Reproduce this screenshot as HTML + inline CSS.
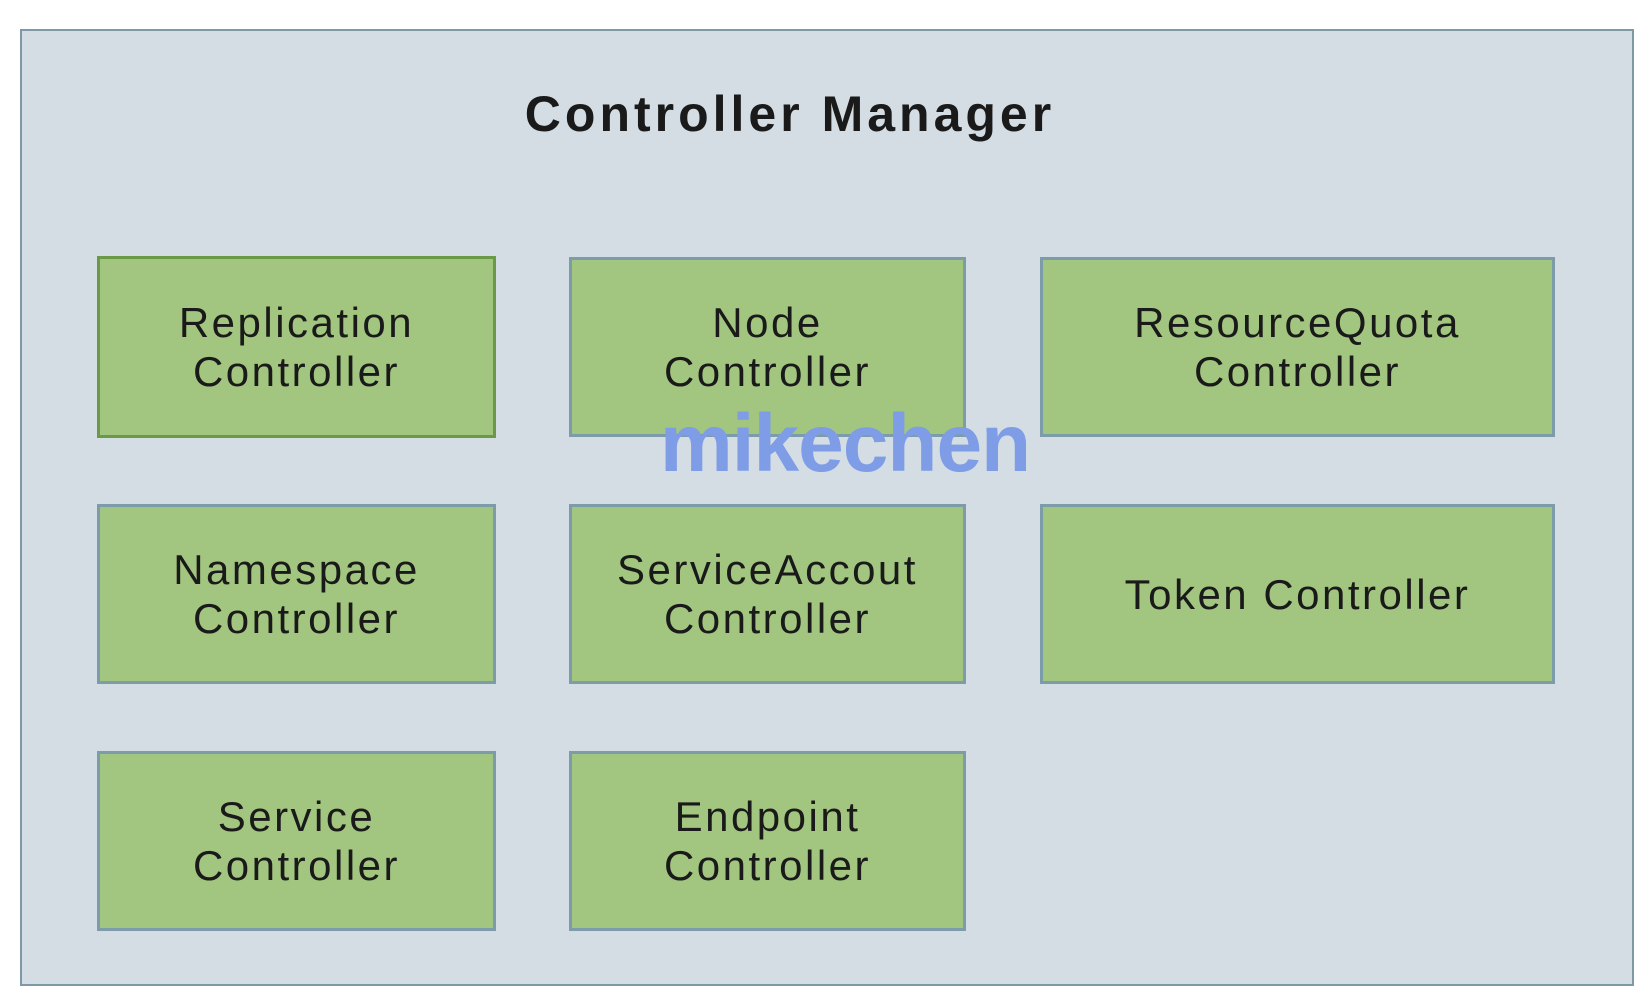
<!DOCTYPE html>
<html><head><meta charset="utf-8"><style>
html,body{margin:0;padding:0;background:#fff;}
body{width:1650px;height:1006px;position:relative;overflow:hidden;font-family:"Liberation Sans",sans-serif;}
.outer{position:absolute;left:20px;top:29px;width:1614px;height:957px;background:#d3dde3;border:2px solid #7f98a8;box-sizing:border-box;}
.title{position:absolute;left:0;width:1580px;top:85px;text-align:center;font-size:50px;font-weight:bold;color:#1a1a1a;letter-spacing:4px;}
.b{position:absolute;background:#a2c67f;border:3px solid #7d9ca9;box-sizing:border-box;display:flex;align-items:center;justify-content:center;text-align:center;font-size:42px;line-height:49px;color:#1a1a1a;letter-spacing:2.5px;}
.wm{position:absolute;left:595px;top:397px;width:500px;text-align:center;font-size:82px;font-weight:bold;color:#7e9de6;letter-spacing:-1px;}
</style></head><body>
<div class="outer"></div>
<div class="title">Controller Manager</div>
<div class="b" style="left:97px;top:256px;width:399px;height:182px;border-color:#6b9a47">Replication<br>Controller</div>
<div class="b" style="left:569px;top:257px;width:397px;height:180px">Node<br>Controller</div>
<div class="b" style="left:1040px;top:257px;width:515px;height:180px">ResourceQuota<br>Controller</div>
<div class="b" style="left:97px;top:504px;width:399px;height:180px">Namespace<br>Controller</div>
<div class="b" style="left:569px;top:504px;width:397px;height:180px">ServiceAccout<br>Controller</div>
<div class="b" style="left:1040px;top:504px;width:515px;height:180px">Token Controller</div>
<div class="b" style="left:97px;top:751px;width:399px;height:180px">Service<br>Controller</div>
<div class="b" style="left:569px;top:751px;width:397px;height:180px">Endpoint<br>Controller</div>
<div class="wm">mikechen</div>
</body></html>
